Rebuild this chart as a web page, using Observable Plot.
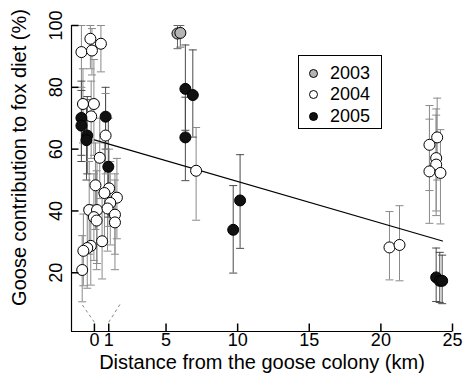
<!DOCTYPE html>
<html><head><meta charset="utf-8">
<script src="https://cdn.jsdelivr.net/npm/d3@7"></script>
<script src="https://cdn.jsdelivr.net/npm/@observablehq/plot@0.6"></script>
<style>
body{margin:0;background:#fff;}
#wrap{position:relative;width:465px;height:383px;font-family:"Liberation Sans",Arial,sans-serif;}
#legend{position:absolute;left:298px;top:55px;width:84px;height:74px;border:1px solid #000;box-sizing:border-box;background:#fff;}
.item{position:absolute;left:0;height:20px;display:flex;align-items:center;font-size:18px;color:#000;}
.sw{width:9px;height:9px;border-radius:50%;border:1px solid #000;margin-left:10px;margin-right:12px;box-sizing:border-box;}
</style></head>
<body><div id="wrap"></div>
<script>
// ---- data ----
const years = ["2003", "2004", "2005"];
const yearFill = {"2003": "#b4b4b4", "2004": "#ffffff", "2005": "#111111"};
const barColor = {"2003": "#666666", "2004": "#8a8a8a", "2005": "#4a4a4a"};

// points plotted on the main distance axis (km)
const mainYear = ["2003","2003",
  "2004","2004","2004","2004","2004","2004","2004","2004","2004",
  "2005","2005","2005","2005","2005","2005","2005","2005"];
const mainKm  = [5.8, 6.0,
  7.1, 20.6, 21.3, 23.93, 23.39, 23.86, 23.86, 23.39, 24.16,
  6.35, 6.87, 6.35, 9.69, 10.17, 23.86, 24.11, 24.28];
const mainPct = [97.4, 97.6,
  53.0, 28.2, 29.0, 63.8, 61.4, 57.1, 55.0, 52.8, 52.3,
  79.5, 77.5, 63.8, 33.9, 43.4, 18.5, 17.4, 17.4];
const mainLo  = [92.5, 93.0,
  37.0, 17.7, 17.4, 50.0, 46.6, 40.0, 38.5, 36.0, 35.8,
  66.1, 63.9, 49.8, 19.9, 27.9, 10.7, 10.4, 10.0];
const mainHi  = [100, 100,
  67.0, 39.8, 41.7, 76.5, 74.1, 73.0, 71.0, 69.7, 66.3,
  93.7, 92.1, 76.8, 48.2, 58.2, 28.0, 26.6, 25.7];

// points inside the 0-1 km stretch (drawn on an expanded inset)
const insetYear = [
  "2004","2004","2004","2004","2004","2004","2004","2004","2004","2004",
  "2004","2004","2004","2004","2004","2004","2004","2004","2004","2004",
  "2004","2004","2004","2004","2004","2004",
  "2005","2005","2005","2005","2005","2005"];
const insetKm = [
  0.23, 0.50, 0.00, 0.27, 0.04, 0.32, 0.25, 0.62, 0.47, 0.36,
  0.71, 0.59, 0.91, 0.74, 0.20, 0.40, 0.67, 0.32, 0.86, 0.39,
  0.86, 0.53, 0.24, 0.15, 0.05, 0.02,
  0.00, 0.62, 0.00, 0.15, 0.13, 0.69];
const insetPct = [
  95.7, 94.1, 91.4, 91.9, 74.6, 74.6, 70.6, 64.4, 57.2, 48.3,
  47.3, 45.8, 44.3, 42.6, 40.3, 40.3, 40.8, 38.0, 38.8, 36.9,
  36.3, 30.2, 28.7, 28.0, 27.1, 20.9,
  70.1, 70.5, 67.6, 64.4, 62.9, 54.3];
const insetLo = [
  86, 85, 80, 84, 62, 58, 57, 52, 44, 34,
  35, 30, 31, 29, 26, 23, 27, 24, 26, 21,
  21, 18, 16, 15, 15.8, 10.6,
  58, 60, 56, 52, 50, 38];
const insetHi = [
  100, 100, 100, 99, 86, 89, 82, 78, 70, 62,
  60, 62, 57, 56, 56, 58, 54, 52, 52, 53,
  50, 46, 42, 41, 39, 32,
  82, 80, 79, 77, 76, 70];

// regression
const fitIntercept = 63.0, fitSlope = -1.346;
const fitKm = [0, 24.3];

const xTicks = [0, 1, 5, 10, 15, 20, 25];
const yTicks = [20, 40, 60, 80, 100];
const xTitle = "Distance from the goose colony (km)";
const yTitle = "Goose contribution to fox diet (%)";

// ---- layout ----
const xMin = -1.6, xMax = 25, yMin = 1, yMax = 100;
const insetStart = -0.908, insetSpan = 2.723; // axis-km occupied by 0..1 km inset

const rows = [];
mainKm.forEach((k, i) => rows.push({year: mainYear[i], x: k, y: mainPct[i], lo: mainLo[i], hi: mainHi[i]}));
insetKm.forEach((k, i) => rows.push({year: insetYear[i], x: insetStart + k * insetSpan, y: insetPct[i], lo: insetLo[i], hi: insetHi[i]}));
const order = {"2004": 0, "2005": 1, "2003": 2};
const pts = rows.slice().sort((a, b) => order[a.year] - order[b.year]);

const fit = fitKm.map(k => ({x: k, y: fitIntercept + fitSlope * k}));
const dashed = [
  {x1: 0, y1: 4, x2: insetStart, y2: 10},
  {x1: 1, y1: 4, x2: insetStart + insetSpan, y2: 10}
];

const capSym = {draw(ctx) { ctx.moveTo(-4, 0); ctx.lineTo(4, 0); }};
const xTickSym = {draw(ctx) { ctx.moveTo(0, 0); ctx.lineTo(0, -8); }};
const yTickSym = {draw(ctx) { ctx.moveTo(0, 0); ctx.lineTo(7, 0); }};

const chart = Plot.plot({
  width: 465, height: 383,
  marginLeft: 71, marginRight: 13, marginTop: 25, marginBottom: 52,
  style: {fontFamily: "'Liberation Sans', Arial, sans-serif", fontSize: "18px", background: "#fff", color: "#000"},
  x: {domain: [xMin, xMax], axis: null},
  y: {domain: [yMin, yMax], axis: null},
  marks: [
    Plot.link(dashed, {x1: "x1", y1: "y1", x2: "x2", y2: "y2", stroke: "#888", strokeDasharray: "3,3", strokeWidth: 1}),
    Plot.ruleX(rows, {x: "x", y1: "lo", y2: "hi", stroke: d => barColor[d.year], strokeWidth: 1}),
    Plot.dot(rows, {x: "x", y: "lo", symbol: capSym, stroke: d => barColor[d.year], fill: "none", strokeWidth: 1}),
    Plot.dot(rows, {x: "x", y: "hi", symbol: capSym, stroke: d => barColor[d.year], fill: "none", strokeWidth: 1}),
    Plot.line(fit, {x: "x", y: "y", stroke: "#000", strokeWidth: 1.2}),
    Plot.dot(pts, {x: "x", y: "y", r: 5.5, fill: d => yearFill[d.year], stroke: "#000", strokeWidth: 1}),
    Plot.ruleX([xMin], {stroke: "#000", strokeWidth: 1.2}),
    Plot.ruleY([yMin], {stroke: "#000", strokeWidth: 1.2}),
    Plot.dot(xTicks, {x: d => d, frameAnchor: "bottom", symbol: xTickSym, stroke: "#000", fill: "none"}),
    Plot.dot(yTicks, {y: d => d, frameAnchor: "left", symbol: yTickSym, stroke: "#000", fill: "none"}),
    Plot.text(xTicks, {x: d => d, text: d => String(d), frameAnchor: "bottom", dy: 14, fill: "#000"}),
    Plot.text(yTicks, {y: d => d, text: d => String(d), frameAnchor: "left", textAnchor: "middle", dx: -15, rotate: -90, fill: "#000"}),
    Plot.text([xTitle], {text: d => d, frameAnchor: "bottom", dy: 37, fontSize: 20, fill: "#000"}),
    Plot.text([yTitle], {text: d => d, frameAnchor: "left", textAnchor: "middle", dx: -52, dy: -21, rotate: -90, fontSize: 20, fill: "#000"})
  ]
});
const wrap = document.getElementById("wrap");
wrap.appendChild(chart);

const legend = document.createElement("div");
legend.id = "legend";
years.forEach((yr, i) => {
  const it = document.createElement("div");
  it.className = "item";
  it.style.top = (7 + i * 21.5) + "px";
  const sw = document.createElement("span");
  sw.className = "sw";
  sw.style.background = yearFill[yr];
  it.appendChild(sw);
  const t = document.createElement("span");
  t.textContent = yr;
  it.appendChild(t);
  legend.appendChild(it);
});
wrap.appendChild(legend);
</script>
</body></html>
